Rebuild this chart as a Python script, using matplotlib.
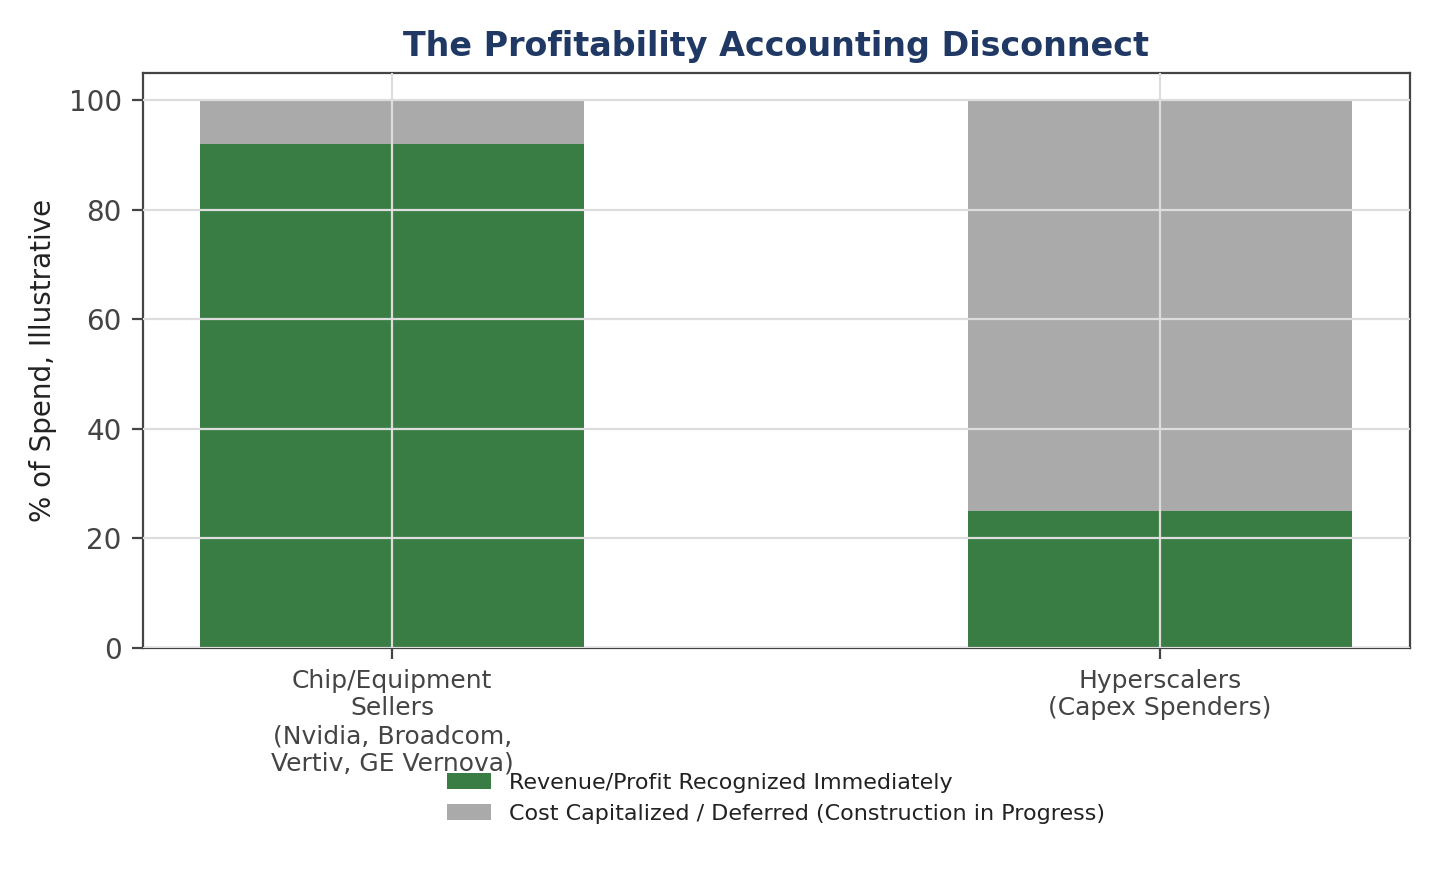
import matplotlib
matplotlib.use("Agg")
import matplotlib.pyplot as plt
import numpy as np

categories = ["Chip/Equipment\nSellers\n(Nvidia, Broadcom,\nVertiv, GE Vernova)",
              "Hyperscalers\n(Capex Spenders)"]
recognized = [92, 25]
deferred = [8, 75]
series_labels = ["Revenue/Profit Recognized Immediately",
                 "Cost Capitalized / Deferred (Construction in Progress)"]

plt.rcParams['font.family'] = ['DejaVu Sans']
text_color = "#444444"

fig, ax = plt.subplots(figsize=(7.2, 4.4), dpi=200)
x = np.arange(len(categories))
ax.bar(x, recognized, width=0.5, color="#3a7d44", label=series_labels[0], zorder=2)
ax.bar(x, deferred, width=0.5, bottom=recognized, color="#aaaaaa", label=series_labels[1], zorder=2)

ax.set_xticks(x)
ax.set_xticklabels(categories, fontsize=9, color=text_color)
ax.tick_params(axis='y', labelsize=10, colors=text_color)
ax.tick_params(axis='x', colors=text_color)
ax.tick_params(axis='both', length=4, width=0.8, color="#444444")
ax.set_ylim(0, 105)
ax.set_ylabel("% of Spend, Illustrative", fontsize=10, color="#222222")
ax.set_title("The Profitability Accounting Disconnect", fontsize=12, fontweight='bold',
             color="#1f3864")
ax.grid(True, color="#dddddd", linewidth=0.8, zorder=3)
ax.set_axisbelow(False)
for s in ax.spines.values():
    s.set_color("#444444")
    s.set_linewidth(0.8)

ax.legend(loc='upper center', bbox_to_anchor=(0.5, -0.183), ncol=1, frameon=False,
          fontsize=8, handlelength=2.0, labelcolor="#222222")

fig.subplots_adjust(left=0.099, right=0.979, top=0.917, bottom=0.264)
fig.savefig("out.png", dpi=200)
